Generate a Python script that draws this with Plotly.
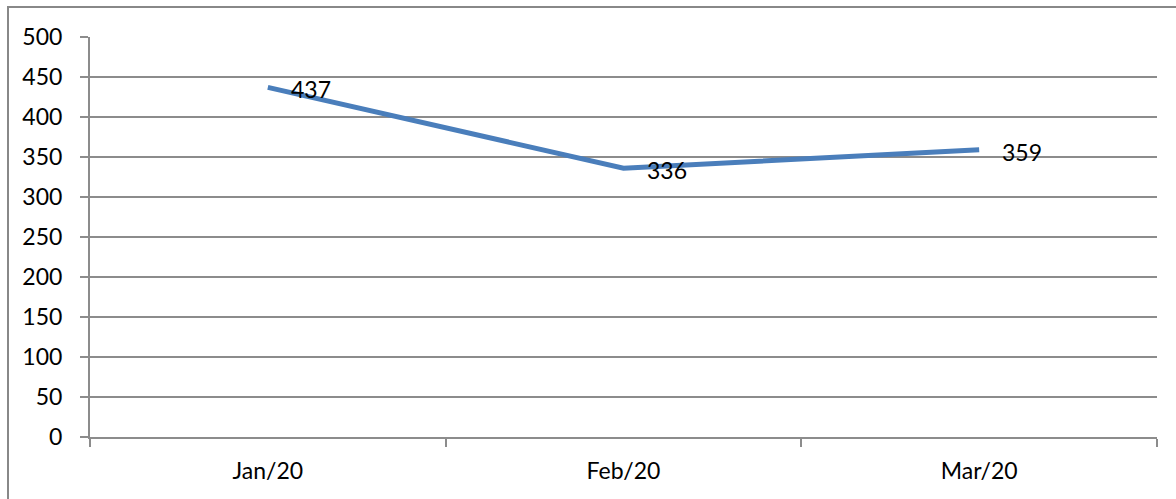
import plotly.graph_objects as go

months = ["Jan/20", "Feb/20", "Mar/20"]
values = [437, 336, 359]
y_ticks = [0, 50, 100, 150, 200, 250, 300, 350, 400, 450, 500]

GRID = "#8c8c8c"
LINE = "#4a7ebb"
FONT = "Lato, Open Sans, Liberation Sans, sans-serif"

fig = go.Figure(
    go.Scatter(
        x=months,
        y=values,
        mode="lines",
        line=dict(color=LINE, width=5),
        hoverinfo="skip",
    )
)

# value labels placed to the right of each point
for m, v in zip(months, values):
    fig.add_annotation(
        x=m, y=v, text=str(v),
        showarrow=False,
        xanchor="left", yanchor="middle",
        xshift=21, yshift=-2,
        font=dict(family=FONT, size=23, color="#000000"),
    )

W, H = 1176, 499
ml, mr, mt, mb = 90, 19, 37, 62
pw, ph = W - ml - mr, H - mt - mb

# chart frame around the whole drawing
fig.add_shape(
    type="rect",
    xref="paper", yref="paper",
    x0=(8 - ml) / pw, x1=1.2,
    y0=-0.3, y1=(H - mb - 7) / ph,
    line=dict(color="#888888", width=2),
    fillcolor="rgba(0,0,0,0)",
    layer="below",
)

fig.update_layout(
    width=W, height=H,
    margin=dict(l=ml, r=mr, t=mt, b=mb),
    paper_bgcolor="white",
    plot_bgcolor="white",
    showlegend=False,
    font=dict(family=FONT, color="#000000"),
    xaxis=dict(
        type="category",
        categoryorder="array",
        categoryarray=months,
        range=[-0.5, 2.5],
        showgrid=False,
        showline=True,
        linecolor=GRID,
        linewidth=2,
        ticks="outside",
        tickson="boundaries",
        ticklen=8,
        tickcolor=GRID,
        tickwidth=2,
        tickfont=dict(size=23),
        ticklabelstandoff=12,
        zeroline=False,
    ),
    yaxis=dict(
        range=[0, 500],
        tickvals=y_ticks,
        showgrid=True,
        gridcolor=GRID,
        gridwidth=2,
        showline=True,
        linecolor=GRID,
        linewidth=2,
        ticks="outside",
        ticklen=8,
        tickcolor=GRID,
        tickwidth=2,
        tickfont=dict(size=23),
        ticklabelstandoff=13,
        zeroline=False,
    ),
)

fig.write_html("out.html")
